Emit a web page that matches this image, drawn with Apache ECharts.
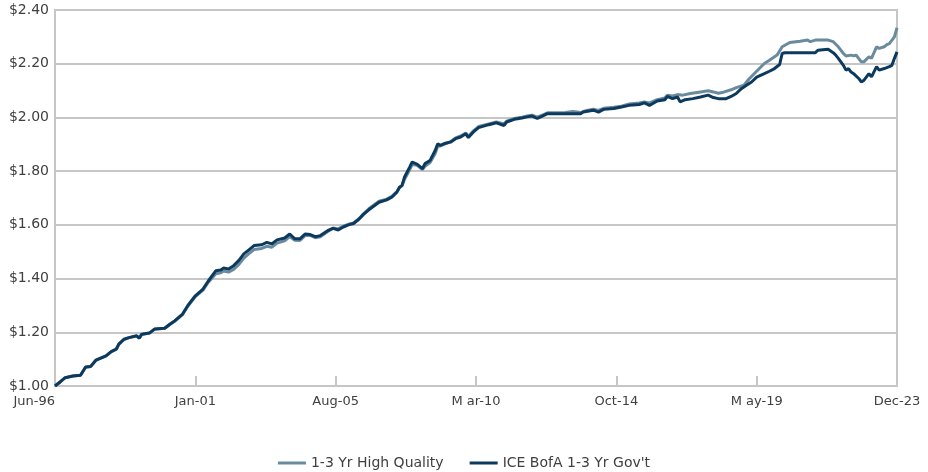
<!doctype html>
<html>
<head>
    <meta charset="utf-8">
    <title>1-3 Yr High Quality vs ICE BofA 1-3 Yr Gov't</title>
    <style>
        html, body { margin: 0; padding: 0; background: #fff; }
        #chart { width: 928px; height: 472px; }
    </style>
</head>
<body>
<div id="chart"></div>
<script src="https://cdn.jsdelivr.net/npm/echarts@6/dist/echarts.min.js"></script>
<script>
    // x = months since Jun-96 (0 .. 330 = Dec-23)
    var tickLabels = ['Jun-96', 'Jan-01', 'Aug-05', 'M ar-10', 'Oct-14', 'M ay-19', 'Dec-23'];
    var tickStep = 55;

    var hqName = '1-3 Yr High Quality';
    var hqMonths = [0, 2, 4, 7, 10, 12, 14, 16, 20, 22, 24, 25, 27, 29, 32, 33, 34, 37, 39, 43, 45, 47, 50, 52, 55, 58, 60,
        63, 65, 66, 68, 70, 72, 74, 76, 78, 81, 83, 85, 87, 90, 92, 94, 96, 98, 100, 102, 104, 107, 109, 111, 113, 115,
        117, 119, 121, 123, 127, 130, 132, 134, 135, 136, 137, 139, 140, 142, 144, 145, 147, 149, 150, 151, 153, 155,
        157, 159, 161, 162, 164, 166, 170, 173, 176, 177, 180, 183, 185, 187, 189, 191, 193, 200, 203, 206, 208, 211,
        213, 215, 219, 222, 225, 229, 231, 233, 236, 239, 240, 242, 244, 246, 249, 253, 256, 258, 260, 262, 265, 267,
        270, 272, 275, 278, 280, 283, 285, 288, 292, 295, 296, 298, 303, 305, 307, 309, 310, 312, 313, 314, 316, 317,
        319, 320, 322, 323, 325, 326, 327, 329, 330];
    var hqValues = [1.000, 1.015, 1.031, 1.037, 1.040, 1.070, 1.073, 1.095, 1.112, 1.127, 1.137, 1.155, 1.173, 1.180,
        1.186, 1.178, 1.192, 1.197, 1.211, 1.215, 1.229, 1.242, 1.266, 1.296, 1.333, 1.357, 1.385,
        1.418, 1.422, 1.428, 1.424, 1.434, 1.452, 1.476, 1.493, 1.508, 1.512, 1.520, 1.517, 1.532, 1.541, 1.556, 1.543,
        1.542, 1.560, 1.561, 1.552, 1.556, 1.576, 1.588, 1.585, 1.595, 1.602,
        1.607, 1.622, 1.642, 1.660, 1.688, 1.696, 1.706, 1.724, 1.738, 1.745, 1.770, 1.805, 1.825, 1.822, 1.806, 1.818,
        1.832, 1.866, 1.893, 1.894, 1.902, 1.910,
        1.924, 1.931, 1.942, 1.930, 1.950, 1.966, 1.976, 1.983, 1.976, 1.986, 1.996, 2.001, 2.005, 2.008, 2.001, 2.009,
        2.017, 2.018, 2.022, 2.018, 2.025, 2.031,
        2.026, 2.034, 2.038, 2.042, 2.050, 2.054, 2.058, 2.054, 2.066, 2.072, 2.083, 2.080, 2.085, 2.083, 2.089, 2.095,
        2.099, 2.095, 2.090, 2.094, 2.103, 2.111,
        2.120, 2.143, 2.172, 2.201, 2.213, 2.232, 2.263, 2.279, 2.284, 2.288, 2.282, 2.288, 2.288, 2.282, 2.263, 2.238,
        2.229, 2.232, 2.229, 2.232, 2.207, 2.207,
        2.226, 2.220, 2.263, 2.257, 2.263, 2.271, 2.275, 2.300, 2.334];

    var govName = "ICE BofA 1-3 Yr Gov't";
    var govMonths = [0, 2, 4, 7, 10, 12, 14, 16, 20, 22, 24, 25, 27, 29, 32, 33, 34, 37, 39, 43, 45, 47, 50, 52, 55, 58, 60,
        63, 65, 66, 68, 70, 72, 74, 76, 78, 81, 83, 85, 87, 90, 92, 94, 96, 98, 100, 102, 104, 107, 109, 111, 113, 115,
        117, 119, 121, 123, 127, 130, 132, 134, 135, 136, 137, 139, 140, 142, 144, 145, 147, 149, 150, 151, 153, 155,
        157, 159, 161, 162, 164, 166, 170, 173, 176, 177, 180, 183, 185, 187, 189, 191, 193, 200, 206, 207, 211,
        213, 215, 219, 222, 225, 229, 231, 233, 236, 239, 240, 242, 244, 245, 247, 250, 253, 256, 258, 260, 263, 265,
        267, 269, 271, 273, 275, 278, 280, 282, 284, 285, 286, 298, 299, 303, 305, 306, 307, 309, 310, 311, 312, 313,
        315, 316, 317, 319, 320, 322, 323, 325, 327, 328, 329, 330];
    var govValues = [1.000, 1.015, 1.031, 1.037, 1.040, 1.071, 1.073, 1.096, 1.112, 1.128, 1.137, 1.156, 1.174, 1.180,
        1.187, 1.178, 1.193, 1.197, 1.212, 1.215, 1.230, 1.243, 1.268, 1.299, 1.336, 1.361, 1.390,
        1.429, 1.432, 1.439, 1.436, 1.448, 1.467, 1.492, 1.507, 1.523, 1.526, 1.535, 1.529, 1.544, 1.551, 1.566, 1.548,
        1.548, 1.566, 1.564, 1.556, 1.560, 1.579, 1.587, 1.581, 1.592, 1.600,
        1.605, 1.620, 1.640, 1.656, 1.684, 1.693, 1.703, 1.722, 1.740, 1.747, 1.778, 1.815, 1.834, 1.825, 1.809, 1.828,
        1.840, 1.877, 1.902, 1.896, 1.904, 1.908,
        1.921, 1.927, 1.939, 1.925, 1.946, 1.962, 1.973, 1.980, 1.970, 1.983, 1.993, 1.998, 2.002, 2.005, 1.996, 2.005,
        2.014, 2.014, 2.014, 2.020, 2.027,
        2.020, 2.030, 2.033, 2.039, 2.045, 2.048, 2.054, 2.045, 2.061, 2.066, 2.078, 2.070, 2.076, 2.058, 2.066, 2.070,
        2.076, 2.083, 2.074, 2.070, 2.070, 2.078,
        2.089, 2.107, 2.120, 2.132, 2.150, 2.163, 2.172, 2.182, 2.197, 2.238, 2.241, 2.241, 2.250, 2.254, 2.241, 2.232,
        2.220, 2.194, 2.176, 2.182, 2.169, 2.163,
        2.145, 2.132, 2.138, 2.163, 2.151, 2.189, 2.176, 2.182, 2.189, 2.194, 2.220, 2.244];

    function pairs(xs, ys) {
        var out = [];
        for (var i = 0; i < xs.length; i++) out.push([xs[i], ys[i]]);
        return out;
    }

    var font = 'DejaVu Sans';
    var txt = '#404040';
    var lineGrey = '#c6c6c6';
    var myChart = echarts.init(document.getElementById('chart'), null, {renderer: 'canvas'});
    var option = {
        animation: false,
        backgroundColor: '#fff',
        textStyle: {fontFamily: font},
        grid: {
            left: 55, right: 31, top: 10, bottom: 86,
            show: true, borderColor: lineGrey, borderWidth: 2
        },
        legend: {
            top: 451,
            left: 'center',
            itemWidth: 28,
            itemHeight: 3,
            itemGap: 26,
            icon: 'rect',
            textStyle: {fontFamily: font, fontSize: 14, color: txt},
            data: [hqName, govName]
        },
        xAxis: {
            type: 'value',
            min: 0,
            max: 330,
            interval: tickStep,
            axisLine: {lineStyle: {color: lineGrey, width: 2}},
            axisTick: {inside: true, length: 10, lineStyle: {color: lineGrey, width: 2}},
            splitLine: {show: false},
            axisLabel: {
                margin: 9,
                fontFamily: font,
                fontSize: 13,
                color: txt,
                alignMinLabel: 'right',
                formatter: function (v) { return tickLabels[Math.round(v / tickStep)] || ''; }
            }
        },
        yAxis: {
            type: 'value',
            min: 1,
            max: 2.4,
            interval: 0.2,
            axisLine: {show: true, lineStyle: {color: lineGrey, width: 2}},
            axisTick: {show: false},
            splitLine: {lineStyle: {color: lineGrey, width: 2}},
            axisLabel: {
                margin: 6,
                fontFamily: font,
                fontSize: 14,
                color: txt,
                formatter: function (v) { return '$' + v.toFixed(2); }
            }
        },
        series: [
            {
                name: hqName,
                type: 'line',
                showSymbol: false,
                symbol: 'none',
                lineStyle: {color: '#6a8a9e', width: 3},
                itemStyle: {color: '#6a8a9e'},
                data: pairs(hqMonths, hqValues)
            },
            {
                name: govName,
                type: 'line',
                showSymbol: false,
                symbol: 'none',
                lineStyle: {color: '#0c3a5e', width: 3},
                itemStyle: {color: '#0c3a5e'},
                data: pairs(govMonths, govValues)
            }
        ]
    };
    myChart.setOption(option);
</script>
</body>
</html>
